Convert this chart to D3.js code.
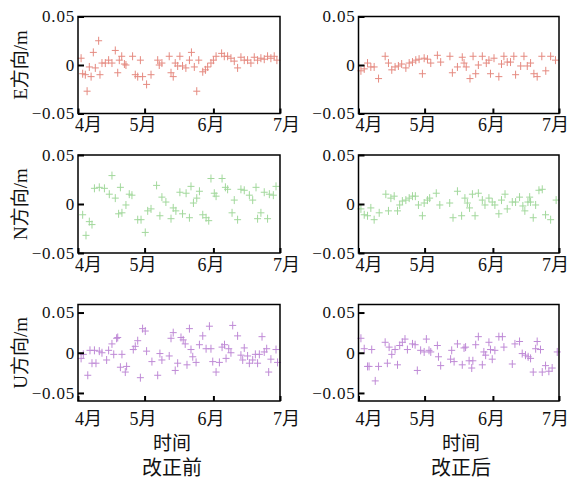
<!DOCTYPE html>
<html>
<head>
<meta charset="utf-8">
<script src="https://cdn.jsdelivr.net/npm/d3@7"></script>
<style>
  body { margin: 0; background: #fff; }
  text { font-family: "Liberation Serif", "Times New Roman", "Noto Sans CJK SC", serif; fill: #111; }
</style>
</head>
<body>
<script>
// values: [day since 1 April, offset in m]
const eBefore = [[1.4,0.007],[2.1,-0.009],[3.3,-0.010],[4.1,-0.027],[5.1,-0.002],[5.9,-0.012],[6.9,0.013],[7.8,-0.003],
  [9.3,0.025],[9.9,-0.010],[10.8,0.002],[12.3,0.002],[13.8,0.005],[15.3,0.002],[16.8,0.015],[17.9,-0.008],[18.6,0.005],
  [19.7,0.009],[20.9,0.001],[21.6,0.0],[24.6,0.009],[25.8,-0.010],[26.9,-0.012],[28.1,0.005],[29.1,-0.012],[30.9,-0.020],
  [32.9,-0.010],[35.9,0.005],[36.6,0.0],[37.8,0.002],[41.1,0.009],[41.9,-0.008],[42.9,-0.012],[43.8,0.002],[44.9,-0.001],
  [45.9,0.009],[47.1,-0.001],[48.6,-0.003],[50.2,0.005],[51.1,0.013],[52.4,-0.002],[53.5,-0.027],[54.4,0.005],[56.2,-0.007],
  [57.4,-0.005],[58.4,-0.002],[59.9,0.002],[61.0,0.005],[62.2,0.009],[64.7,0.012],[65.9,0.009],[67.4,0.009],[68.9,0.007],
  [70.4,0.004],[71.9,-0.003],[73.4,0.008],[74.9,0.005],[76.4,0.005],[77.9,0.002],[79.4,0.008],[80.9,0.005],[82.4,0.007],
  [83.9,0.006],[85.4,0.009],[86.9,0.007],[88.4,0.009],[89.6,0.005]];
const eAfter = [[1.1,-0.006],[2.6,-0.004],[4.1,0.002],[5.6,-0.002],[7.1,-0.002],[9.1,-0.014],[12.1,0.009],[13.6,0.002],
  [15.1,-0.005],[16.6,-0.002],[18.1,-0.001],[19.6,0.001],[21.5,-0.003],[23.0,0.002],[24.5,0.003],[26.0,0.005],[27.5,0.006],
  [29.0,-0.009],[29.8,0.007],[31.3,0.006],[32.8,0.002],[35.8,0.010],[37.3,0.003],[41.5,0.009],[42.6,-0.008],[44.9,-0.002],
  [47.1,0.008],[47.9,0.002],[48.9,-0.002],[50.6,-0.014],[52.0,0.009],[53.2,-0.009],[54.4,0.0],[56.2,0.009],[58.0,0.002],
  [59.2,0.005],[59.9,-0.009],[61.5,0.007],[63.7,-0.012],[64.9,0.001],[66.0,0.009],[67.5,0.003],[69.0,0.003],[70.5,0.009],
  [71.3,-0.010],[73.6,-0.001],[75.1,0.009],[76.6,-0.001],[78.1,0.002],[79.6,-0.009],[81.1,-0.012],[83.2,0.009],[85.0,-0.006],
  [87.2,0.009],[89.4,0.005]];
const nBefore = [[2.1,-0.011],[3.6,-0.032],[5.1,-0.018],[6.3,-0.021],[7.4,0.016],[9.6,0.017],[11.9,0.016],[14.1,0.010],
  [15.3,0.029],[16.8,0.006],[18.3,-0.010],[19.8,-0.009],[19.1,0.017],[21.6,-0.001],[23.1,0.010],[24.3,0.009],[26.9,-0.016],
  [28.4,-0.016],[30.3,-0.029],[31.4,-0.007],[32.9,-0.005],[35.4,0.019],[36.9,-0.012],[37.8,0.007],[39.6,0.002],[41.9,-0.015],
  [42.9,-0.004],[44.1,-0.007],[45.9,0.012],[47.1,-0.010],[48.7,0.011],[50.2,-0.014],[50.9,0.018],[52.0,0.001],[53.5,0.006],
  [54.7,0.013],[56.2,-0.011],[57.7,-0.014],[58.9,-0.017],[59.9,0.026],[61.4,0.011],[62.2,0.008],[64.9,0.026],[66.4,0.017],
  [67.4,0.015],[69.4,-0.009],[70.4,0.004],[71.9,-0.016],[73.4,0.015],[74.9,0.014],[77.2,0.009],[78.7,0.004],[80.2,0.017],
  [80.9,-0.015],[82.4,-0.009],[83.9,0.012],[85.4,-0.015],[86.2,0.010],[88.0,0.009],[89.2,0.018]];
const nAfter = [[1.1,-0.005],[2.6,-0.011],[4.1,-0.012],[5.6,-0.004],[7.1,-0.016],[9.4,-0.009],[12.4,0.010],[13.6,-0.007],
  [14.7,0.006],[16.2,0.008],[17.7,-0.007],[18.7,-0.001],[19.9,0.003],[21.5,0.004],[23.0,0.006],[24.5,0.008],[25.8,0.008],
  [27.2,-0.001],[29.0,-0.012],[29.8,0.001],[31.3,0.004],[32.3,0.006],[35.3,0.011],[36.9,-0.001],[41.4,0.001],[42.9,-0.014],
  [44.9,0.013],[46.8,-0.012],[48.3,0.006],[49.4,0.001],[50.4,-0.004],[51.7,0.010],[52.9,-0.012],[54.4,0.011],[56.2,0.004],
  [57.4,-0.001],[59.2,0.006],[60.7,0.002],[61.9,-0.001],[63.7,-0.010],[64.9,0.004],[66.5,0.010],[67.5,-0.005],[69.8,0.002],
  [71.3,0.002],[73.1,0.007],[74.6,-0.002],[75.5,-0.007],[76.9,0.002],[77.7,0.007],[78.1,0.002],[79.3,-0.014],[80.4,-0.001],
  [81.9,0.014],[83.4,0.015],[84.9,-0.011],[87.2,-0.016],[89.7,0.004]];
const uBefore = [[1.4,-0.007],[2.4,-0.002],[4.4,-0.028],[5.4,0.003],[6.3,-0.013],[7.4,0.003],[8.1,-0.013],[9.6,0.002],
  [10.8,0.0],[12.9,-0.009],[13.8,0.003],[15.3,0.011],[16.1,-0.002],[17.4,0.018],[17.9,0.019],[19.8,-0.002],[19.1,-0.018],
  [21.3,-0.024],[21.9,-0.017],[24.9,0.004],[25.8,0.008],[26.9,0.015],[28.1,-0.031],[29.1,0.030],[30.3,0.027],[30.9,0.002],
  [33.3,-0.011],[35.9,-0.028],[36.9,-0.001],[37.8,-0.009],[41.1,-0.004],[41.9,0.018],[42.9,0.025],[43.8,-0.022],[44.9,-0.013],
  [46.4,0.019],[47.4,0.016],[48.3,0.011],[49.1,-0.015],[50.2,0.030],[50.9,0.004],[51.7,-0.005],[53.2,-0.012],[54.7,0.010],
  [56.2,0.021],[57.7,0.005],[59.2,0.033],[59.9,0.005],[60.7,-0.011],[62.2,-0.024],[63.7,-0.012],[64.9,0.007],[66.0,0.010],
  [66.7,-0.007],[67.9,0.005],[68.9,0.0],[69.7,0.034],[71.9,0.021],[73.4,-0.003],[74.2,-0.009],[74.9,0.006],[76.4,-0.004],
  [77.2,-0.013],[78.7,-0.009],[79.9,-0.002],[80.9,-0.013],[81.7,-0.002],[82.9,0.020],[83.9,0.001],[85.0,0.005],[85.9,-0.024],
  [86.9,-0.008],[89.2,0.004],[89.9,-0.012]];
const uAfter = [[1.1,0.018],[2.6,0.005],[4.1,-0.017],[4.8,-0.017],[6.0,0.004],[7.6,-0.035],[9.1,-0.017],[12.1,0.013],
  [13.1,-0.013],[13.9,0.007],[15.1,-0.002],[16.6,0.004],[17.7,-0.015],[18.7,0.009],[19.9,0.013],[21.1,0.017],[22.2,0.004],
  [24.5,0.011],[25.7,0.010],[26.7,-0.022],[28.2,0.003],[29.8,0.001],[30.8,0.017],[32.0,0.003],[32.8,0.001],[35.8,0.009],
  [36.3,-0.005],[37.3,-0.016],[41.8,-0.008],[42.3,0.003],[43.4,-0.011],[44.9,0.011],[47.1,-0.015],[47.9,0.006],[48.6,0.007],
  [50.2,-0.010],[51.4,-0.019],[51.9,-0.010],[53.2,0.010],[54.4,0.020],[56.2,-0.015],[56.9,0.001],[57.7,-0.003],[59.2,0.013],
  [59.9,0.004],[60.7,-0.008],[61.9,0.003],[63.7,0.020],[65.3,0.020],[66.0,0.007],[69.8,-0.014],[71.0,0.011],[73.1,0.014],
  [74.3,-0.001],[75.8,-0.003],[77.0,-0.005],[78.1,-0.007],[79.3,-0.024],[80.4,0.005],[81.1,0.014],[82.6,0.004],[83.4,-0.024],
  [84.9,-0.016],[86.4,-0.023],[87.9,-0.019],[90.2,0.001]];

const monthLabels = ["4月", "5月", "6月", "7月"];
const yTicks = [-0.05, 0, 0.05];
const directions = ["E", "N", "U"];
const yDomains = [[-0.05, 0.05], [-0.05, 0.05], [-0.06, 0.06]];
const colTitles = ["改正前", "改正后"];
const colors = ["#e58a80", "#a2d89c", "#bf8ad6"];
const panelData = [[eBefore, eAfter], [nBefore, nAfter], [uBefore, uAfter]];

// layout
const width = 577, height = 484;
const colLeft = [78, 358.5], colRight = [280, 559];
const rowTop = [16.5, 155, 304.5], rowBottom = [113.5, 253, 401];
const labelPad = [5, 5, 11];
const monthShift = [[10, -2, -3, 6], [10, -2, -2, -4]];
const titleX = [172, 461];

const start = new Date(Date.UTC(2019, 3, 1)), end = new Date(Date.UTC(2019, 6, 1));
const toDate = day => new Date(start.getTime() + day * 864e5);
const fmt = d => d === 0 ? "0" : d3.format(".2f")(d);
const plus = "M-3.5,0H3.5M0,-4V4";

const svg = d3.select("body").append("svg")
    .attr("width", width)
    .attr("height", height);

directions.forEach((dir, r) => {
  colTitles.forEach((_, c) => {
    const g = svg.append("g");
    const x = d3.scaleUtc([start, end], [colLeft[c], colRight[c]]);
    const y = d3.scaleLinear(yDomains[r], [rowBottom[r], rowTop[r]]);

    g.append("g")
        .attr("fill", "none")
        .attr("stroke", colors[r])
        .attr("stroke-width", 1)
      .selectAll("path")
      .data(panelData[r][c])
      .join("path")
        .attr("d", plus)
        .attr("transform", d => `translate(${x(toDate(d[0]))},${y(d[1])})`);

    // x axis, ticks pointing in
    g.append("g")
        .attr("transform", `translate(0,${rowBottom[r]})`)
        .call(d3.axisBottom(x)
          .tickValues(d3.utcMonth.range(start, d3.utcDay.offset(end, 1)))
          .tickSizeInner(-5).tickSizeOuter(0).tickPadding(labelPad[r])
          .tickFormat((d, i) => monthLabels[i]))
        .call(a => a.select(".domain").remove())
        .call(a => a.selectAll(".tick line").attr("stroke", "#000").attr("stroke-width", 2))
        .call(a => a.selectAll(".tick text")
          .attr("font-size", 18)
          .attr("dx", (d, i) => monthShift[c][i]));

    // y axis
    g.append("g")
        .attr("transform", `translate(${colLeft[c]},0)`)
        .call(d3.axisLeft(y)
          .tickValues(yTicks)
          .tickSizeInner(-6).tickSizeOuter(0).tickPadding(3)
          .tickFormat(fmt))
        .call(a => a.select(".domain").remove())
        .call(a => a.selectAll(".tick line").attr("stroke", "#000").attr("stroke-width", 2))
        .call(a => a.selectAll(".tick text")
          .attr("font-size", 17)
          .attr("letter-spacing", 0.8));

    g.append("rect")
        .attr("x", colLeft[c])
        .attr("y", rowTop[r])
        .attr("width", colRight[c] - colLeft[c])
        .attr("height", rowBottom[r] - rowTop[r])
        .attr("fill", "none")
        .attr("stroke", "#000")
        .attr("stroke-width", 1.5);

    if (c === 0) {
      svg.append("text")
          .attr("transform", `translate(20,${(rowTop[r] + rowBottom[r]) / 2}) rotate(-90)`)
          .attr("text-anchor", "middle")
          .attr("dy", "0.35em")
          .attr("font-size", 19)
          .text(`${dir}方向/m`);
    }
  });
});

colTitles.forEach((t, c) => {
  svg.append("text")
      .attr("x", titleX[c]).attr("y", 450)
      .attr("text-anchor", "middle")
      .attr("font-size", 19)
      .text("时间");
  svg.append("text")
      .attr("x", titleX[c]).attr("y", 475)
      .attr("text-anchor", "middle")
      .attr("font-size", 20)
      .text(t);
});
</script>
</body>
</html>
